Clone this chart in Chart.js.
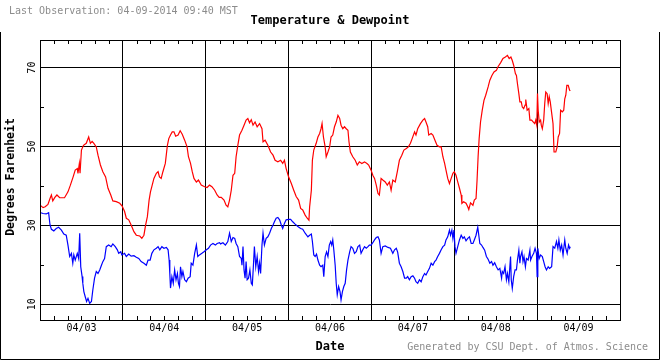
<!DOCTYPE html>
<html>
<head>
<meta charset="utf-8">
<script src="https://cdn.jsdelivr.net/npm/chart.js@4/dist/chart.umd.min.js"></script>
<style>
html,body{margin:0;padding:0;background:#fff;}
canvas{display:block;}
</style>
</head>
<body>
<canvas id="c" width="660" height="360"></canvas>
<script>
// ---- DATA (hours since 04/03 00:00 MST) ----
const dayLabels = ['04/03','04/04','04/05','04/06','04/07','04/08','04/09'];
const yTickLabels = [10, 30, 50, 70];

const tempHours = [0.2,0.9,1.5,2.3,2.9,3.3,3.7,4.3,4.9,5.7,7.1,8.1,8.8,9.6,10.2,10.8,11.0,11.4,11.6,12.0,12.6,13.4,14.1,14.6,15.1,15.6,16.3,16.8,17.5,18.2,19.0,19.7,20.5,21.1,22.1,23.1,23.8,24.5,25.0,25.7,26.4,27.2,27.9,28.9,29.5,30.1,30.6,31.1,31.6,32.0,32.5,33.0,33.7,34.2,34.6,35.1,35.6,36.3,36.9,37.3,37.8,38.3,38.8,39.3,40.0,40.6,41.2,41.9,42.6,43.0,43.6,44.1,44.6,45.3,45.9,46.7,47.7,48.4,49.1,49.8,50.6,51.3,51.9,52.5,53.3,53.9,54.4,54.9,55.4,55.9,56.4,56.8,57.3,57.8,58.5,59.1,59.7,60.2,60.7,61.2,61.7,62.3,62.9,63.6,64.3,64.6,65.2,66.0,66.8,67.5,68.1,68.9,69.7,70.3,70.8,71.3,72.0,72.8,73.5,74.2,74.9,75.5,76.1,76.8,77.4,77.9,78.1,78.6,78.9,79.3,80.0,80.5,81.0,81.4,81.7,82.1,82.6,82.9,83.4,83.9,84.3,84.8,85.3,85.8,86.3,86.8,87.2,87.7,88.2,88.7,89.2,89.5,89.9,90.6,91.3,91.9,92.5,93.2,94.0,94.7,95.2,95.9,96.4,96.9,97.4,97.9,98.3,98.8,99.3,100.0,100.6,101.2,101.7,102.2,102.9,103.5,104.1,104.8,105.4,106.1,106.7,107.3,107.8,108.5,108.9,109.4,110.2,110.9,111.4,111.8,112.3,112.6,113.3,113.8,114.4,115.0,115.7,116.2,116.7,117.2,117.6,118.1,118.6,119.1,119.6,120.0,120.5,121.0,121.5,122.0,122.2,122.7,123.4,123.9,124.2,124.7,125.4,125.8,126.3,126.6,126.9,127.2,127.6,128.1,128.6,129.1,129.8,130.3,130.9,131.5,132.2,132.7,133.4,134.1,134.8,135.4,135.9,136.4,136.8,137.2,137.7,138.0,138.3,138.7,139.0,139.4,139.7,140.1,140.5,140.7,141.1,141.6,141.9,142.4,142.9,143.3,143.6,143.9,144.1,144.3,144.6,145.0,145.2,145.5,145.9,146.2,146.5,146.9,147.2,147.5,147.8,148.1,148.6,148.9,149.4,149.8,150.1,150.5,150.8,151.3,151.7,152.0,152.3,152.6,153.0,153.4,153.6];
const tempValues = [35.0,34.5,34.7,35.3,36.8,37.7,36.2,37.1,37.7,37.0,37.0,38.5,40.2,42.3,44.0,44.4,43.2,45.7,43.2,49.1,50.3,50.8,52.4,50.8,51.3,50.8,49.9,47.8,45.3,43.6,42.3,39.4,37.7,36.2,36.0,35.6,34.9,33.5,31.8,31.4,30.1,28.4,27.5,27.3,26.7,27.5,30.1,32.2,36.4,38.5,40.2,41.9,43.2,43.6,42.3,41.9,43.6,45.7,50.3,52.0,52.9,53.7,53.7,52.6,52.9,54.0,53.1,51.6,49.9,47.4,45.7,43.6,41.9,41.0,41.5,40.2,39.8,39.6,40.2,39.8,38.9,37.7,37.1,37.1,36.4,35.1,34.7,36.4,38.9,42.7,43.2,47.4,50.3,52.9,54.1,55.4,56.7,57.1,56.0,56.8,55.4,56.2,55.0,55.8,54.5,51.2,51.6,50.3,48.6,47.8,46.5,46.1,46.5,45.7,46.5,44.4,42.3,40.6,38.9,37.3,36.4,34.3,33.9,32.6,31.8,31.3,34.7,38.9,46.5,49.1,50.8,52.4,53.3,54.5,55.8,52.4,49.9,47.4,48.6,49.9,52.4,52.9,55.0,56.2,57.9,57.1,55.4,54.5,55.0,54.5,54.1,51.2,48.6,47.4,46.5,45.3,46.1,45.7,46.1,45.7,45.3,44.0,42.7,41.9,40.2,38.1,37.7,41.9,41.5,41.0,40.2,41.0,38.9,41.5,41.0,43.6,46.5,47.8,49.1,49.5,49.9,50.8,52.0,53.7,52.9,54.5,55.8,56.7,57.1,56.2,55.0,52.9,53.3,52.9,51.6,50.3,49.9,49.9,47.4,45.7,44.0,41.9,40.6,41.9,43.2,43.6,42.7,41.0,39.4,37.7,35.6,36.0,35.6,34.7,34.0,35.7,35.1,36.4,36.8,41.5,47.4,52.0,56.2,59.2,61.7,63.0,65.1,66.8,68.0,68.9,69.3,70.3,71.2,72.3,72.7,73.1,72.3,72.7,71.8,70.6,68.5,68.0,65.9,63.4,61.3,61.3,60.0,59.6,60.5,61.9,59.2,59.6,56.7,56.7,56.2,55.8,56.7,55.4,63.4,59.2,56.2,56.7,55.4,54.5,56.7,60.9,63.8,63.4,60.9,62.6,61.3,59.2,55.8,48.6,48.6,49.9,52.4,53.3,59.2,58.8,59.2,62.1,63.0,65.5,65.5,64.3,64.1];

const dewHours = [0.2,0.9,1.8,2.5,2.9,3.3,4.0,4.7,5.4,6.2,6.9,7.6,8.1,8.6,9.1,9.5,9.8,10.2,10.8,11.2,11.5,11.8,12.2,12.4,12.7,13.1,13.5,13.9,14.4,14.9,15.3,15.8,16.3,16.8,17.3,17.8,18.2,18.7,19.2,19.9,20.6,21.1,21.8,22.4,22.8,23.4,23.7,24.5,25.0,25.7,26.4,27.2,27.9,28.6,29.3,30.1,30.8,31.3,31.9,32.4,33.0,33.7,34.2,34.7,35.3,35.9,36.6,37.1,37.4,37.6,37.8,38.2,38.6,39.0,39.4,39.8,40.1,40.4,40.7,41.1,41.4,41.9,42.4,42.9,43.5,43.8,44.3,44.8,45.3,45.7,46.2,46.9,47.5,48.2,48.8,49.4,50.1,50.8,51.3,52.0,52.3,53.0,53.7,54.4,54.9,55.4,55.9,56.4,56.8,57.3,57.8,58.3,58.5,58.8,59.1,59.4,59.7,60.0,60.4,60.8,61.2,61.5,61.8,62.1,62.5,62.9,63.3,63.6,63.9,64.3,64.6,65.0,65.5,66.0,66.5,67.0,67.5,67.9,68.4,68.9,69.4,69.9,70.3,70.8,71.3,72.0,72.6,73.2,73.9,74.7,75.5,76.1,76.8,77.6,78.1,78.6,78.9,79.3,79.7,80.1,80.5,81.0,81.4,81.9,82.2,82.6,83.0,83.4,83.8,84.2,84.5,84.8,85.1,85.5,85.8,86.1,86.5,86.9,87.2,87.6,88.0,88.4,88.8,89.2,89.7,90.1,90.6,91.1,91.6,92.1,92.6,93.0,93.5,94.0,94.5,95.0,95.4,95.9,96.4,96.9,97.4,97.9,98.3,98.8,99.3,100.0,100.8,101.5,102.2,102.7,103.2,103.6,104.1,104.6,105.1,105.6,106.1,106.5,107.0,107.5,108.0,108.5,108.9,109.4,109.9,110.4,110.9,111.4,111.8,112.3,112.8,113.3,113.8,114.3,114.7,115.2,115.7,116.2,116.7,117.2,117.6,118.1,118.6,118.9,119.3,119.6,119.9,120.2,120.5,121.0,121.5,122.0,122.5,122.9,123.4,123.9,124.4,124.9,125.4,125.8,126.3,126.8,127.1,127.4,127.9,128.3,128.8,129.3,129.8,130.3,130.8,131.2,131.7,132.2,132.7,133.2,133.7,133.9,134.3,134.7,135.1,135.4,135.8,136.3,136.5,136.8,137.2,137.6,138.0,138.3,138.7,139.0,139.2,139.6,139.9,140.2,140.6,140.9,141.4,141.9,142.1,142.5,143.0,143.4,143.8,144.0,144.2,144.6,145.0,145.5,145.9,146.3,146.7,147.2,147.6,148.2,148.6,149.1,149.6,150.0,150.3,150.7,151.1,151.5,152.0,152.3,152.7,153.1,153.4,153.6];
const dewValues = [33.2,33.0,32.9,33.2,30.1,29.0,28.6,29.2,29.5,28.8,27.8,27.5,25.0,22.1,22.9,20.4,22.5,21.2,22.9,21.6,28.0,19.5,17.0,15.3,13.2,11.9,10.7,11.5,10.2,10.7,13.6,16.6,18.3,17.8,18.7,19.9,20.8,21.6,24.6,25.0,24.6,25.3,24.6,23.8,22.9,23.3,22.5,22.9,22.1,22.7,22.2,22.3,21.9,21.6,20.8,20.4,19.9,21.2,21.2,22.9,23.8,24.2,24.6,23.8,24.6,24.2,24.4,23.8,21.2,17.8,14.1,17.0,15.3,18.7,16.2,17.8,15.3,14.5,19.5,17.0,18.3,16.2,15.7,16.6,17.0,20.4,19.9,22.9,25.0,22.1,22.5,22.9,23.3,23.8,24.2,25.0,25.4,25.0,25.4,25.6,25.3,25.6,25.0,25.9,28.0,25.9,26.9,26.7,25.4,24.6,22.1,21.6,19.9,24.6,18.7,16.6,20.8,16.2,16.6,18.7,15.3,14.9,19.5,24.6,19.5,22.1,18.3,20.4,17.8,25.0,28.0,25.0,26.7,27.1,28.0,29.2,30.1,30.9,31.8,32.0,31.4,30.1,29.2,30.5,31.4,31.5,31.5,30.9,30.3,29.7,29.2,29.0,28.0,27.1,27.5,27.8,25.9,22.5,22.1,22.7,21.2,19.9,19.5,19.9,17.0,22.1,23.3,22.1,25.0,25.9,25.0,26.3,23.8,19.9,15.3,12.4,14.5,13.2,11.1,13.2,14.5,15.3,18.7,21.2,23.3,24.6,24.2,22.9,23.3,24.6,25.0,22.9,23.8,24.6,24.2,24.6,25.0,25.0,25.6,26.3,26.9,27.1,26.3,22.9,24.6,24.8,24.4,24.2,22.9,23.8,24.2,23.2,20.4,19.5,18.3,16.6,16.6,17.0,16.2,17.0,17.2,16.6,15.7,15.3,16.2,15.7,17.0,17.8,17.4,18.3,19.1,20.4,19.9,20.8,21.2,22.1,22.9,23.8,24.6,25.0,26.3,27.1,28.8,27.5,28.8,26.7,28.8,24.6,22.9,24.6,26.3,27.5,26.7,27.1,26.1,26.7,27.1,25.4,25.4,26.3,27.5,29.5,27.5,25.4,25.0,24.4,23.7,22.1,21.4,20.4,20.8,19.9,20.5,19.5,18.7,19.1,16.6,18.3,17.8,19.5,16.2,17.8,15.7,22.1,16.2,14.0,17.0,18.7,18.7,21.2,23.7,20.4,22.1,23.3,20.8,22.1,19.5,21.6,21.2,23.7,21.2,22.1,22.9,24.2,22.9,17.0,24.2,21.6,22.5,22.1,20.8,19.5,18.7,19.5,19.1,19.5,24.6,24.2,25.9,24.2,26.3,23.7,25.0,22.5,26.3,24.2,22.9,25.0,24.2,24.6];

// ---- CHART ----
const MONO = '"DejaVu Sans Mono", "Liberation Mono", monospace';
const toPts = (xs, ys) => xs.map((x, i) => ({x: x, y: ys[i]}));

const decorPlugin = {
  id: 'decor',
  afterDraw(chart) {
    const c = chart.ctx, a = chart.chartArea;
    const xs = chart.scales.x, ys = chart.scales.y;
    c.save();
    c.strokeStyle = '#000';
    c.lineWidth = 1;
    // plot frame
    c.strokeRect(Math.round(a.left) + 0.5, Math.round(a.top) + 0.5,
                 Math.round(a.right) - Math.round(a.left), Math.round(a.bottom) - Math.round(a.top));
    // minor ticks (inward)
    c.beginPath();
    for (let v = 20; v <= 60; v += 20) {
      const y = Math.round(ys.getPixelForValue(v)) + 0.5;
      c.moveTo(a.left, y); c.lineTo(a.left + 4, y);
      c.moveTo(a.right - 4, y); c.lineTo(a.right, y);
    }
    for (let h = 4; h < 168; h += 4) {
      if (h % 24 === 0) continue;
      const x = Math.round(xs.getPixelForValue(h)) + 0.5;
      c.moveTo(x, a.bottom); c.lineTo(x, a.bottom - 4);
      c.moveTo(x, a.top); c.lineTo(x, a.top + 4);
    }
    c.stroke();
    // y tick labels (rotated)
    c.fillStyle = '#000';
    c.font = '10px ' + MONO;
    c.textAlign = 'center';
    c.textBaseline = 'middle';
    yTickLabels.forEach(v => {
      const y = ys.getPixelForValue(v);
      c.save(); c.translate(32, y); c.rotate(-Math.PI / 2);
      c.fillText(String(v), 0, 0); c.restore();
    });
    // y axis title
    c.font = 'bold 11.5px ' + MONO;
    c.save(); c.translate(11, 177); c.rotate(-Math.PI / 2);
    c.fillText('Degrees Farenheit', 0, 0); c.restore();
    // title
    c.font = 'bold 12px ' + MONO;
    c.fillText('Temperature & Dewpoint', 330, 21);
    // x title
    c.fillText('Date', 330, 347);
    // gray texts
    c.fillStyle = '#8c8c8c';
    c.font = '10px ' + MONO;
    c.textAlign = 'left';
    c.fillText('Last Observation: 04-09-2014 09:40 MST', 9, 11);
    c.textAlign = 'right';
    c.fillText('Generated by CSU Dept. of Atmos. Science', 648, 347);
    // outer border
    c.beginPath();
    c.moveTo(0.5, 32); c.lineTo(0.5, 359.5); c.lineTo(659.5, 359.5); c.lineTo(659.5, 32);
    c.stroke();
    c.restore();
  }
};

new Chart(document.getElementById('c'), {
  type: 'line',
  data: {
    datasets: [
      {label: 'Temperature', data: toPts(tempHours, tempValues), borderColor: '#ff0000', borderWidth: 1.2, pointRadius: 0, tension: 0, fill: false},
      {label: 'Dewpoint', data: toPts(dewHours, dewValues), borderColor: '#0000ff', borderWidth: 1.2, pointRadius: 0, tension: 0, fill: false}
    ]
  },
  options: {
    responsive: false,
    animation: false,
    events: [],
    layout: {padding: {top: 40, right: 40, left: 0, bottom: 0}},
    plugins: {legend: {display: false}, tooltip: {enabled: false}, title: {display: false}},
    scales: {
      x: {
        type: 'linear', min: 0, max: 168,
        afterBuildTicks: s => { const t = []; for (let h = 0; h <= 168; h += 4) t.push({value: h}); s.ticks = t; },
        afterFit: s => { s.height = 40; },
        grid: {
          color: ctx => (ctx.tick && ctx.tick.value % 24 === 0) ? '#000' : 'rgba(0,0,0,0)',
          lineWidth: 1, drawTicks: false
        },
        border: {display: true, color: '#000', width: 1},
        ticks: {
          autoSkip: false, maxRotation: 0, minRotation: 0, padding: 2,
          color: '#000', font: {family: MONO, size: 10},
          callback: v => (v % 24 === 12) ? dayLabels[(v - 12) / 24] : ''
        }
      },
      y: {
        type: 'linear', min: 6, max: 77,
        afterBuildTicks: s => { const t = []; for (let v = 10; v <= 70; v += 10) t.push({value: v}); s.ticks = t; },
        afterFit: s => { s.width = 40; },
        grid: {
          color: ctx => (ctx.tick && ctx.tick.value % 20 === 10) ? '#000' : 'rgba(0,0,0,0)',
          lineWidth: 1, drawTicks: false
        },
        border: {display: true, color: '#000', width: 1},
        ticks: {display: false}
      }
    }
  },
  plugins: [decorPlugin]
});
</script>
</body>
</html>
